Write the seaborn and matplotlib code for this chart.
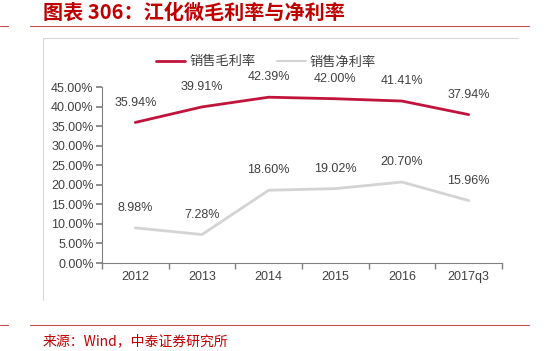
import matplotlib
matplotlib.use("Agg")
import matplotlib.pyplot as plt
from matplotlib.lines import Line2D
import seaborn as sns
import pandas as pd
import numpy as np

years = ["2012", "2013", "2014", "2015", "2016", "2017q3"]
gross_margin = [35.94, 39.91, 42.39, 42.00, 41.41, 37.94]
net_margin = [8.98, 7.28, 18.60, 19.02, 20.70, 15.96]
series_names = ["销售毛利率", "销售净利率"]
title_text = "图表 306：江化微毛利率与净利率"
source_text = "来源：Wind，中泰证券研究所"

sns.set_theme(style="white")
plt.rcParams['font.family'] = ['Noto Sans CJK SC', 'DejaVu Sans']
plt.rcParams['axes.unicode_minus'] = False

df = pd.DataFrame({
    "year": years * 2,
    "value": gross_margin + net_margin,
    "series": [series_names[0]] * len(years) + [series_names[1]] * len(years),
})

RED = "#C0143C"
GRAY = "#D4D4D4"
TXT = "#404040"
NUMFONT = ['Liberation Sans', 'DejaVu Sans']

fig = plt.figure(figsize=(5.5, 3.51), dpi=100)
W, H = 550, 351
ax = fig.add_axes([102 / W, (H - 263) / H, (502 - 102) / W, (263 - 87) / H])

sns.lineplot(data=df, x="year", y="value", hue="series", sort=False,
             palette={series_names[0]: RED, series_names[1]: GRAY},
             linewidth=2, ax=ax, legend=False)

ax.set_xlim(-0.5, len(years) - 0.5)
ax.set_ylim(0, 45)
ax.set_yticks(np.arange(0, 46, 5))
ax.set_yticklabels([f"{v:.2f}%" for v in np.arange(0, 46, 5)], fontsize=9, color=TXT,
                   family=NUMFONT)
ax.set_xticks(range(len(years)))
ax.set_xticklabels(years, fontsize=9, color=TXT, family=NUMFONT)
ax.set_xticks(np.arange(-0.5, len(years), 1), minor=True)
ax.tick_params(axis="x", which="major", length=0, pad=6)
ax.tick_params(axis="x", which="minor", length=4, color="#808080", direction="out", bottom=True)
ax.tick_params(axis="y", length=4, color="#808080", direction="out", left=True, pad=2)
ax.set_xlabel("")
ax.set_ylabel("")
for s in ["top", "right"]:
    ax.spines[s].set_visible(False)
for s in ["left", "bottom"]:
    ax.spines[s].set_color("#808080")
    ax.spines[s].set_linewidth(0.8)

for i, v in enumerate(gross_margin):
    ax.annotate(f"{v:.2f}%", (i, v), xytext=(0, 10), textcoords="offset points",
                ha="center", va="bottom", fontsize=9, color=TXT, family=NUMFONT)
for i, v in enumerate(net_margin):
    ax.annotate(f"{v:.2f}%", (i, v), xytext=(0, 10), textcoords="offset points",
                ha="center", va="bottom", fontsize=9, color=TXT, family=NUMFONT)

# legend
handles = [Line2D([0], [0], color=RED, lw=2), Line2D([0], [0], color=GRAY, lw=1.5)]
fig.legend(handles, series_names, loc="center", bbox_to_anchor=(266 / W, 1 - 62 / H),
           ncol=2, frameon=False, fontsize=9.5, handlelength=2.2, handletextpad=0.3,
           columnspacing=1.6, labelcolor=TXT)

# title and decorations
fig.text(43 / W, 1 - 12 / H, title_text, fontsize=14.5, color="#C00000",
         fontweight="bold", fontstyle="italic", va="center", ha="left")
fig.add_artist(Line2D([0, 8 / W], [1 - 26 / H] * 2, color="#C0504D", lw=0.8))
fig.add_artist(Line2D([30 / W, 529 / W], [1 - 26 / H] * 2, color="#C0504D", lw=0.8))
fig.add_artist(Line2D([43 / W, 518 / W], [1 - 38 / H] * 2, color="#D9D9D9", lw=0.8))
fig.add_artist(Line2D([43 / W, 43 / W], [1 - 38 / H, 1 - 300 / H], color="#D9D9D9", lw=0.8))
fig.add_artist(Line2D([0, 8 / W], [1 - 325 / H] * 2, color="#C0504D", lw=0.8))
fig.add_artist(Line2D([30 / W, 529 / W], [1 - 325 / H] * 2, color="#C0504D", lw=0.8))
fig.text(43 / W, 1 - 341 / H, source_text, fontsize=10, color="#C00000",
         va="center", ha="left")

fig.savefig("out.png", dpi=100)
